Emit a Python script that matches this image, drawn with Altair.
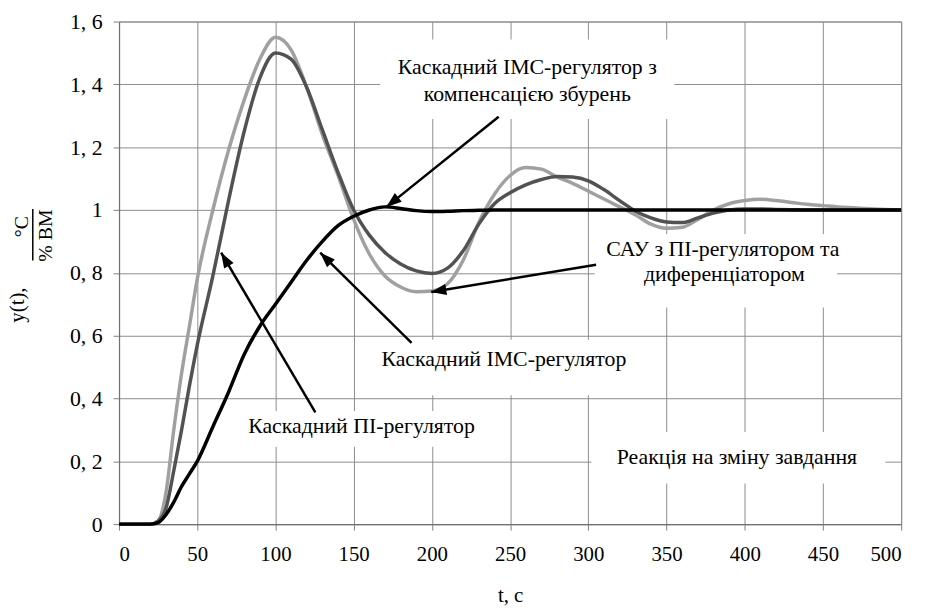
import math
import altair as alt
import pandas as pd

# ---------------- data ----------------
t_s = [0, 10, 20, 25, 30, 35, 40, 45, 50, 60, 70, 80, 90, 100, 110, 120, 130, 140, 150,
       160, 170, 180, 190, 200, 210, 220, 230, 240, 250, 260, 270, 280, 290, 300, 310,
       320, 330, 340, 350, 360, 370, 380, 390, 400, 410, 420, 430, 440, 450, 460, 470,
       480, 490, 500]

sau_pd = [0, 0, 0, 0.01, 0.1, 0.3, 0.48, 0.63, 0.78, 1.0, 1.19, 1.35, 1.48, 1.55, 1.51,
          1.39, 1.24, 1.11, 0.97, 0.86, 0.79, 0.755, 0.74, 0.742, 0.765, 0.84, 0.96, 1.05,
          1.11, 1.135, 1.13, 1.105, 1.085, 1.06, 1.035, 1.01, 0.985, 0.955, 0.942, 0.945,
          0.97, 1.0, 1.02, 1.03, 1.034, 1.03, 1.024, 1.018, 1.014, 1.01, 1.007, 1.004,
          1.002, 1.0]

casc_pi = [0, 0, 0, 0.01, 0.05, 0.17, 0.3, 0.44, 0.57, 0.79, 1.03, 1.25, 1.42, 1.50, 1.48,
           1.39, 1.255, 1.12, 1.0, 0.92, 0.865, 0.828, 0.806, 0.798, 0.815, 0.87, 0.955,
           1.02, 1.055, 1.08, 1.097, 1.107, 1.105, 1.093, 1.065, 1.03, 0.997, 0.975, 0.962,
           0.96, 0.975, 0.99, 1.0, 1.003, 1.003, 1.002, 1.001, 1.0, 1.0, 1.0, 1.0, 1.0,
           1.0, 1.0]

casc_imc = [0, 0, 0, 0.005, 0.03, 0.07, 0.12, 0.16, 0.2, 0.31, 0.42, 0.54, 0.63, 0.70,
            0.77, 0.84, 0.9, 0.95, 0.98, 1.0, 1.01, 1.005, 0.998, 0.995, 0.996, 0.998,
            0.999, 1.0, 1.0, 1.0, 1.0, 1.0, 1.0, 1.0, 1.0, 1.0, 1.0, 1.0, 1.0, 1.0, 1.0,
            1.0, 1.0, 1.0, 1.0, 1.0, 1.0, 1.0, 1.0, 1.0, 1.0, 1.0, 1.0, 1.0]

series_names = ["САУ з ПІ-регулятором та диференціатором",
                "Каскадний ПІ-регулятор",
                "Каскадний IMC-регулятор"]
series_colors = ["#a0a0a0", "#525252", "#000000"]

x_ticks = [0, 50, 100, 150, 200, 250, 300, 350, 400, 450, 500]
y_ticks = [0, 0.2, 0.4, 0.6, 0.8, 1.0, 1.2, 1.4, 1.6]

# annotation texts (data coordinates of their centres)
label_text = ["Каскадний IMC-регулятор з", "компенсацією збурень",
              "САУ з ПІ-регулятором та", "диференціатором",
              "Каскадний IMC-регулятор", "Каскадний ПІ-регулятор",
              "Реакція на зміну завдання"]
label_x = [261, 261, 386, 387, 246, 155, 395]
label_y = [1.455, 1.37, 0.875, 0.797, 0.527, 0.313, 0.212]

# white boxes behind the annotations
box_x = [167, 304, 160, 74, 302]
box_x2 = [355, 459, 333, 236, 490]
box_y = [1.29, 0.69, 0.41, 0.246, 0.129]
box_y2 = [1.543, 0.924, 0.587, 0.36, 0.293]

# arrows: start -> tip
arr_x0 = [242.7, 305, 187, 125.5]
arr_y0 = [1.297, 0.826, 0.577, 0.356]
arr_x1 = [171, 199.6, 128.6, 65.3]
arr_y1 = [1.01, 0.739, 0.864, 0.864]

# ---------------- layout ----------------
W, H = 789, 507
X_MAX, Y_MAX = 500, 1.6
sx, sy = W / X_MAX, H / Y_MAX
FONT = "Liberation Serif, Times New Roman, serif"

xs = alt.Scale(domain=[0, X_MAX], nice=False, zero=False)
ys = alt.Scale(domain=[0, Y_MAX], nice=False, zero=False)
ax_x = alt.Axis(values=x_ticks, title="t, c", grid=True, tickSize=6, labelPadding=14,
                titleY=72, titleBaseline="middle")
ax_y = alt.Axis(values=y_ticks, title=None, grid=True, tickSize=6, labelPadding=11,
                labelFontSize=22,
                labelExpr="replace(format(datum.value, '~g'), '.', ', ')")


def X(f):
    return alt.X(f, scale=xs, axis=ax_x, title="t, c")


def Y(f):
    return alt.Y(f, scale=ys, axis=ax_y, title=None)


rows = []
for name, vals in zip(series_names, [sau_pd, casc_pi, casc_imc]):
    for tt, vv in zip(t_s, vals):
        rows.append({"t": tt, "v": vv, "series": name})
lines_df = pd.DataFrame(rows)

lines = alt.Chart(lines_df).mark_line(strokeWidth=3.5, interpolate="monotone").encode(
    x=X("t:Q"),
    y=Y("v:Q"),
    color=alt.Color("series:N", scale=alt.Scale(domain=series_names, range=series_colors),
                    legend=None),
    order=alt.Order("t:Q"),
)

boxes_df = pd.DataFrame({"x": box_x, "x2": box_x2, "y": box_y, "y2": box_y2})
boxes = alt.Chart(boxes_df).mark_rect(fill="white").encode(
    x=X("x:Q"), x2="x2:Q",
    y=Y("y:Q"), y2="y2:Q",
)

arr_df = pd.DataFrame({"x0": arr_x0, "y0": arr_y0, "x1": arr_x1, "y1": arr_y1})
shafts = alt.Chart(arr_df).mark_rule(color="black", strokeWidth=2.5).encode(
    x=X("x0:Q"), y=Y("y0:Q"),
    x2="x1:Q", y2="y1:Q",
)

head_rows = []
for x0, y0, x1, y1 in zip(arr_x0, arr_y0, arr_x1, arr_y1):
    dxp = (x1 - x0) * sx
    dyp = -(y1 - y0) * sy
    L = math.hypot(dxp, dyp)
    ux, uy = dxp / L, dyp / L
    ang = math.degrees(math.atan2(ux, -uy)) % 360
    head_rows.append({"hx": x1 - 7.5 * ux / sx, "hy": y1 + 7.5 * uy / sy, "ang": ang})
heads = alt.Chart(pd.DataFrame(head_rows)).mark_point(
    shape="M0,-1L-0.72,1L0.72,1Z", filled=True, color="black", size=240, opacity=1,
    strokeWidth=0).encode(
    x=X("hx:Q"), y=Y("hy:Q"),
    angle=alt.Angle("ang:Q", scale=None),
)

labels_df = pd.DataFrame({"lx": label_x, "ly": label_y, "txt": label_text})
labels = alt.Chart(labels_df).mark_text(
    font=FONT, fontSize=22, color="black", align="center", baseline="middle").encode(
    x=X("lx:Q"), y=Y("ly:Q"),
    text="txt:N",
)

one = pd.DataFrame({"a": [0]})
yt1 = alt.Chart(one).mark_text(text="y(t),", font=FONT, fontSize=21, angle=270,
                               align="center", baseline="middle", color="black").encode(
    x=alt.value(-102), y=alt.value(286))
yt2 = alt.Chart(one).mark_text(text="°C", font=FONT, fontSize=20, angle=270,
                               align="center", baseline="middle", color="black").encode(
    x=alt.value(-98), y=alt.value(207))
yt3 = alt.Chart(one).mark_text(text="% BM", font=FONT, fontSize=20, angle=270,
                               align="center", baseline="middle", color="black").encode(
    x=alt.value(-74), y=alt.value(216))
ybar = alt.Chart(one).mark_rule(color="black", strokeWidth=1.5).encode(
    x=alt.value(-87), y=alt.value(189), y2=alt.value(241))

chart = alt.layer(boxes, lines, shafts, heads, labels, yt1, yt2, yt3, ybar).properties(
    width=W, height=H,
    autosize=alt.AutoSizeParams(type="none"),
    padding={"left": 112, "top": 11, "right": 18, "bottom": 86},
    background="white",
).configure_axis(
    labelFont=FONT, labelFontSize=21, labelColor="black",
    titleFont=FONT, titleFontSize=21, titleFontWeight="normal", titleColor="black",
    gridColor="#8c8c8c", gridWidth=1, gridOpacity=1,
    domainColor="#707070", tickColor="#808080", domainWidth=1.2,
).configure_view(stroke="#8c8c8c", strokeWidth=1)

chart.save("out.html", embed_options={"renderer": "svg", "actions": False})
